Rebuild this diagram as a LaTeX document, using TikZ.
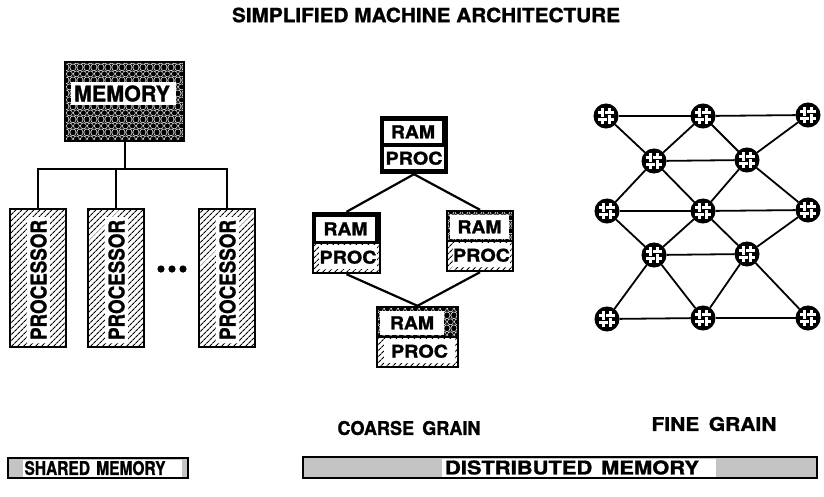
\documentclass[tikz,border=0pt]{standalone}
\usepackage{fontspec}
\setmainfont{TeX Gyre Heros}[BoldFeatures={FakeBold=1.2}]
\usepackage{graphicx}
\usetikzlibrary{patterns,patterns.meta}

% staggered rings used for memory blocks
\pgfdeclarepatternformonly{balls}{\pgfpointorigin}{\pgfpoint{7.4pt}{13pt}}{\pgfpoint{7.4pt}{13pt}}{%
  \pgfsetlinewidth{0.55pt}%
  \pgfpathcircle{\pgfpoint{0pt}{0pt}}{3.2pt}%
  \pgfpathcircle{\pgfpoint{7.4pt}{0pt}}{3.2pt}%
  \pgfpathcircle{\pgfpoint{0pt}{13pt}}{3.2pt}%
  \pgfpathcircle{\pgfpoint{7.4pt}{13pt}}{3.2pt}%
  \pgfpathcircle{\pgfpoint{3.7pt}{6.5pt}}{3.2pt}%
  \pgfusepath{stroke}}

% bold label scaled to a given width and cap height
\newcommand\fitlabel[3]{\resizebox{#1}{#2}{\bfseries #3}}

\tikzset{
  rule/.style={line width=2pt},
  link/.style={line width=2.2pt},
  mesh/.style={line width=1.8pt},
  hatch/.style={pattern={Lines[angle=45,distance=4pt,line width=1.2pt]}},
  ballfill/.style={fill=black, postaction={pattern=balls, pattern color=white}},
  solidfill/.style={fill=black},
  stipple/.style={pattern={Dots[distance=2pt,radius=0.55pt]}},
  frame/.style={draw, line width=2.4pt, inner sep=0pt},
  thinframe/.style={draw, line width=1.5pt, inner sep=0pt},
  lbl/.style={inner sep=0pt},
  fgnode/.style={circle, fill=black, draw=black, line width=1pt,
    minimum size=24pt, inner sep=0pt,
    path picture={
      \begin{scope}[shift={(path picture bounding box.center)}, rotate=45]
        % woven knot: two strands each way, over/under alternating
        \draw[white, line width=2.8pt] (-3.2,-8) -- (-3.2,8) (3.2,-8) -- (3.2,8)
                                       (-8,-3.2) -- (8,-3.2) (-8,3.2) -- (8,3.2);
        \draw[black, line width=0.9pt] (-1.3,-4.8) -- (-1.3,-1.6) (1.3,1.6) -- (1.3,4.8)
                                       (-4.8,1.3) -- (-1.6,1.3) (1.6,-1.3) -- (4.8,-1.3);
      \end{scope}}},
}

% one RAM/PROC unit: name, x, y, half width, half height,
% RAM half style, PROC half style, RAM field right inset, PROC field left inset
\newcommand\cgunit[9]{%
  \begin{scope}[shift={(#2,#3)}]
    \path[#6] (-#4,-#5) rectangle (#4,0);
    \path[#7] (-#4,0) rectangle (#4,#5);
    \fill[white] (-#4+3,-#5+3.5) rectangle (#4-#8,-2.2);
    \fill[white] (-#4+#9,2.2) rectangle (#4-3,#5-4);
    \draw[line width=1.8pt] (-#4,0) -- (#4,0);
    \node[lbl] at ({(3-#8)/2},{-#5/2+0.8}) {\fitlabel{44pt}{13pt}{RAM}};
    \node[lbl] at ({(#9-3)/2},{#5/2-0.8}) {\fitlabel{57pt}{13pt}{PROC}};
    \node[frame, minimum width={2*#4pt}, minimum height={2*#5pt}] (#1) at (0,0) {};
  \end{scope}}

\begin{document}
\begin{tikzpicture}[x=1pt,y=-1pt]
\useasboundingbox (0,0) rectangle (824,496);

% title
\node[lbl] (title) at (426,15) {\fitlabel{388pt}{14.5pt}{SIMPLIFIED MACHINE ARCHITECTURE}};

% shared memory block
\path[ballfill] (65,62) rectangle (184,141);
\fill[white] (71,82) rectangle (176,105);
\node[lbl] (memtext) at (122,93.5) {\fitlabel{96pt}{16pt}{MEMORY}};
\node[frame, minimum width=119pt, minimum height=79pt] (mem) at (124.5,101.5) {};

% processors
\foreach \n/\x in {p1/38, p2/116, p3/227} {
  \path[hatch] (\x-28,209) rectangle (\x+28,347);
  \fill[white] (\x-11,217) rectangle (\x+12,343);
  \node[lbl, rotate=90] (\n text) at (\x+0.5,280) {\fitlabel{120pt}{16pt}{PROCESSOR}};
  \node[frame, minimum width=56pt, minimum height=138pt] (\n) at (\x,278) {};
}
\foreach \x in {161,172,183} \fill (\x,269) circle (3.6);

% bus
\coordinate (bus) at (124.5,169);
\draw[rule] (mem.south) -- (bus);
\draw[rule] (p1.north) |- (bus) -| (p3.north);
\draw[rule] (p2.north) -- (p2.north |- bus);

% coarse grain units
\cgunit{ct}{414}{145}{33}{28}{solidfill}{solidfill}{5}{3}
\cgunit{cl}{346.5}{243}{33.5}{30}{solidfill}{hatch}{5}{6}
\cgunit{cr}{480}{241}{33}{30}{ballfill}{hatch}{4}{6}
\cgunit{cb}{417.5}{337}{40.5}{30}{ballfill}{hatch}{14}{7}
\draw[link] (ct.south) -- (cl.north);
\draw[link] (ct.south) -- (cr.north);
\draw[link] (cl.south) -- (cb.north);
\draw[link] (cr.south) -- (cb.north);

% fine grain mesh
\node[fgnode] (n11) at (606,116) {};
\node[fgnode] (n12) at (703,116) {};
\node[fgnode] (n13) at (808,115) {};
\node[fgnode] (n21) at (654,161) {};
\node[fgnode] (n22) at (747,160) {};
\node[fgnode] (n31) at (607,211) {};
\node[fgnode] (n32) at (703,211) {};
\node[fgnode] (n33) at (808,210) {};
\node[fgnode] (n41) at (654,255) {};
\node[fgnode] (n42) at (747,254) {};
\node[fgnode] (n51) at (607,319) {};
\node[fgnode] (n52) at (703,318) {};
\node[fgnode] (n53) at (808,318) {};
\foreach \a/\b in {n11/n12, n12/n13, n11/n21, n12/n21, n12/n22, n13/n22, n21/n22,
  n21/n31, n21/n32, n22/n32, n22/n33, n31/n32, n32/n33,
  n31/n41, n32/n41, n32/n42, n33/n42, n41/n42,
  n41/n51, n41/n52, n42/n52, n42/n53, n51/n52, n52/n53}
  \draw[mesh] (\a) -- (\b);

% captions
\node[lbl] (coarse) at (409,428) {\fitlabel{143pt}{14pt}{COARSE\hspace{0.45em}GRAIN}};
\node[lbl] (fine) at (714,424) {\fitlabel{125pt}{14pt}{FINE\hspace{0.45em}GRAIN}};

% memory model bars
\path[stipple] (8,458) rectangle (188,478);
\fill[white] (23,459.5) rectangle (182,476.5);
\node[thinframe, minimum width=180pt, minimum height=20pt] (sharedbar) at (98,468) {};
\node[lbl] (sharedtext) at (95,468) {\fitlabel{141pt}{14pt}{SHARED\hspace{0.4em}MEMORY}};

\path[stipple] (303,457) rectangle (817,478);
\fill[white] (442,458.5) rectangle (716,476.5);
\node[thinframe, minimum width=514pt, minimum height=21pt] (distbar) at (560,467.5) {};
\node[lbl] (disttext) at (572,467.5) {\fitlabel{254pt}{14pt}{DISTRIBUTED\hspace{0.4em}MEMORY}};
\end{tikzpicture}
\end{document}
